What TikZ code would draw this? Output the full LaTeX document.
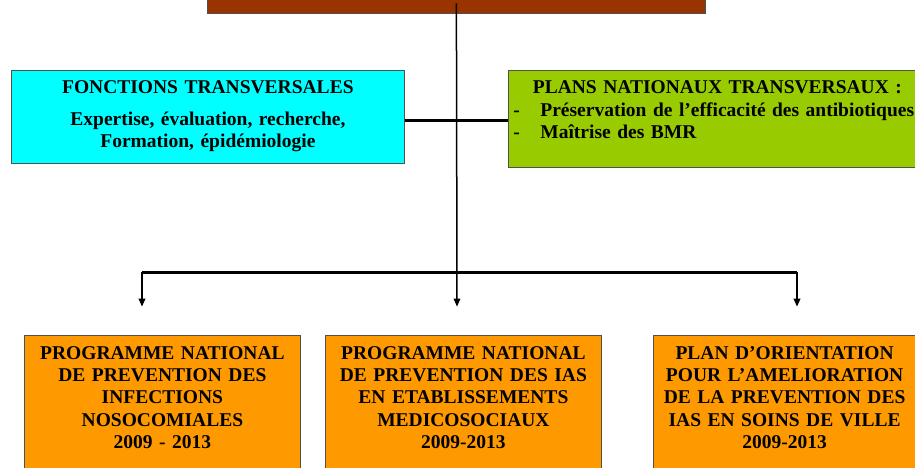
\documentclass[tikz,border=0pt]{standalone}
\usepackage{fontspec}
\setmainfont{Liberation Serif}
\usepackage{tikz}
\usetikzlibrary{arrows.meta}
\definecolor{brownbox}{HTML}{993300}
\definecolor{cyanbox}{HTML}{00FFFF}
\definecolor{greenbox}{HTML}{99CC00}
\definecolor{orangebox}{HTML}{FF9900}
\definecolor{edgegrey}{HTML}{505050}
\tikzset{
    boxnode/.style = {draw=edgegrey, line width=0.8pt, inner ysep=9.3pt, text height=14pt, font=\bfseries\fontsize{19.5}{22.3}\selectfont},
    head_box/.style = {draw=edgegrey, fill=brownbox, line width=0.8pt, inner sep=0pt, minimum width=498pt, minimum height=40pt, anchor=south west},
    cross_box/.style = {boxnode, fill=cyanbox, align=center, anchor=north west, inner xsep=5pt, text width=383pt, text depth=60.1pt, font=\bfseries\fontsize{19.5}{21.7}\selectfont},
    plan_box/.style = {boxnode, fill=greenbox, align=left, anchor=north west, inner xsep=4.7pt, text width=408pt, text depth=64.7pt},
    prog_box/.style = {boxnode, fill=orangebox, align=center, anchor=north west, inner xsep=6pt, inner ysep=10pt, text width=264pt, text depth=120pt, font=\bfseries\fontsize{19.5}{22.25}\selectfont},
    main_line/.style = {line width=1.5pt},
    link_line/.style = {line width=3.5pt},
    bus_line/.style = {line width=3pt},
    down_arrow/.style = {->, line width=1.8pt}
}
\newcommand{\dashitem}[1]{\makebox[27pt][l]{-}#1}
\begin{document}
\begin{tikzpicture}[x=1pt, y=-1pt, >={Triangle[length=8pt,width=6.5pt]}]
    \useasboundingbox (0,0) rectangle (915,467);
    \node [head_box] (top) at (207,13.3) {};
    \node [cross_box] (fonctions) at (11,70)
        {FONCTIONS TRANSVERSALES\\[10pt]
         Expertise, évaluation, recherche,\\
         Formation, épidémiologie};
    \node [plan_box] (plans) at (508.3,70)
        {\makebox[\linewidth]{PLANS NATIONAUX TRANSVERSAUX :}\\
         \dashitem{Préservation de l’efficacité des antibiotiques}\\
         \dashitem{Maîtrise des BMR}};
    \node [prog_box] (pnin) at (24,335)
        {PROGRAMME NATIONAL\\ DE PREVENTION DES\\ INFECTIONS\\ NOSOCOMIALES\\ 2009 - 2013};
    \node [prog_box] (ias_ems) at (325,335)
        {PROGRAMME NATIONAL\\ DE PREVENTION DES IAS\\ EN ETABLISSEMENTS\\ MEDICOSOCIAUX\\ 2009-2013};
    \node [prog_box, text width=251pt] (ias_ville) at (652.7,335)
        {PLAN D’ORIENTATION\\ POUR L’AMELIORATION\\ DE LA PREVENTION DES\\ IAS EN SOINS DE VILLE\\ 2009-2013};
    \coordinate (link) at (457,120.5);
    \coordinate (bus_l) at (142,272);
    \coordinate (bus_r) at (797,272);
    \coordinate (tip_l) at (142,306.7);
    \coordinate (tip_m) at (457,306.7);
    \coordinate (tip_r) at (797,306.7);
    \draw [link_line] (fonctions.east |- link) -- (plans.west |- link);
    \draw [bus_line] (bus_l) -- (bus_r);
    \draw [main_line, ->] ([yshift=10pt]top.south) -- (tip_m);
    \draw [down_arrow] (bus_l) -- (tip_l);
    \draw [down_arrow] (bus_r) -- (tip_r);
\end{tikzpicture}
\end{document}
